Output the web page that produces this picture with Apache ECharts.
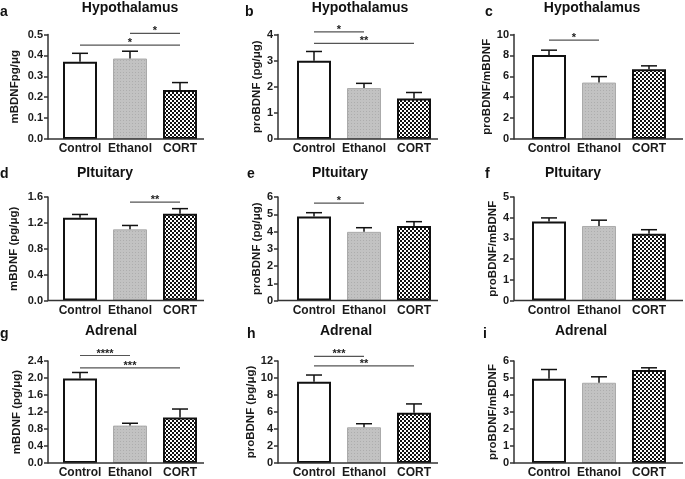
<!DOCTYPE html>
<html><head><meta charset="utf-8">
<script src="https://cdn.jsdelivr.net/npm/echarts@6/dist/echarts.min.js"></script>
<style>html,body{margin:0;padding:0;background:#fff}#c{width:685px;height:479px}</style>
</head><body><div id="c"></div>
<script>
// ---------- DATA ----------
const categories = ['Control', 'Ethanol', 'CORT'];
const panelLetters = ['a', 'b', 'c', 'd', 'e', 'f', 'g', 'h', 'i'];
const panelTitles = ['Hypothalamus', 'Hypothalamus', 'Hypothalamus', 'PItuitary', 'PItuitary', 'PItuitary', 'Adrenal', 'Adrenal', 'Adrenal'];
const yNames = ['mBDNFpg/\u03bcg', 'proBDNF (pg/\u03bcg)', 'proBDNF/mBDNF', 'mBDNF (pg/\u03bcg)', 'proBDNF (pg/\u03bcg)', 'proBDNF/mBDNF', 'mBDNF (pg/\u03bcg)', 'proBDNF (pg/\u03bcg)', 'proBDNF/mBDNF'];

const meansA = [0.37, 0.385, 0.235];  const errA = [0.04, 0.035, 0.035];
const meansB = [3.0, 1.95, 1.55];     const errB = [0.35, 0.18, 0.23];
const meansC = [8.05, 5.4, 6.67];     const errC = [0.45, 0.57, 0.33];
const meansD = [1.28, 1.10, 1.34];    const errD = [0.05, 0.06, 0.08];
const meansE = [4.87, 3.98, 4.32];    const errE = [0.22, 0.24, 0.25];
const meansF = [3.82, 3.60, 3.22];    const errF = [0.17, 0.28, 0.20];
const meansG = [1.99, 0.88, 1.07];    const errG = [0.14, 0.055, 0.20];
const meansH = [9.55, 4.20, 5.90];    const errH = [0.80, 0.42, 1.05];
const meansI = [4.95, 4.72, 5.47];    const errI = [0.55, 0.35, 0.13];

// y-axis tick labels: 0 .. max step
const yMax = [0.5, 4, 10, 1.6, 6, 5, 2.4, 12, 6];
const yStep = [0.1, 1, 2, 0.4, 1, 1, 0.4, 2, 1];
const yDecimals = [1, 0, 0, 1, 0, 0, 1, 0, 0];

// significance brackets: [fromCategory, toCategory, yValue, label]
const sigA = [[1, 2, 0.505, '*'], [0, 2, 0.449, '*']];
const sigB = [[0, 1, 4.1, '*'], [0, 2, 3.66, '**']];
const sigC = [[0, 1, 9.46, '*']];
const sigD = [[1, 2, 1.52, '**']];
const sigE = [[0, 1, 5.65, '*']];
const sigF = [];
const sigG = [[0, 1, 2.53, '****'], [0, 2, 2.24, '***']];
const sigH = [[0, 1, 12.54, '***'], [0, 2, 11.42, '**']];
const sigI = [];

const allMeans = [meansA, meansB, meansC, meansD, meansE, meansF, meansG, meansH, meansI];
const allErr = [errA, errB, errC, errD, errE, errF, errG, errH, errI];
const allSig = [sigA, sigB, sigC, sigD, sigE, sigF, sigG, sigH, sigI];

// ---------- LAYOUT ----------
const colAxisX = [48, 278, 514];
const colBandLeft = [55, 289, 524];
const colBaseRight = [204, 438, 683];
const bandWidth = 150;
const rowTop = [34.5, 197, 361];
const rowBottom = [139, 300.5, 464];
const nameGaps = [27, 13, 17, 28, 12, 14, 25, 18, 13];
const titleCenters = [130, 360, 592, 105, 340, 573, 111, 346, 581];
const titleTops = [1, 166, 324];
const letterLeft = [0, 245, 485, 0, 247, 485, 0, 247, 483];
const letterTops = [5, 167, 327];

const FONT = 'Liberation Sans, Arial, sans-serif';

function makePattern(kind) {
  const c = document.createElement('canvas');
  const ctx = c.getContext('2d');
  if (kind === 'checker') {
    c.width = 4; c.height = 4;
    ctx.fillStyle = '#ffffff'; ctx.fillRect(0, 0, 4, 4);
    ctx.fillStyle = '#111111';
    ctx.fillRect(0, 0, 2, 2); ctx.fillRect(2, 2, 2, 2);
  } else {
    c.width = 3; c.height = 3;
    ctx.fillStyle = '#c2c2c2'; ctx.fillRect(0, 0, 3, 3);
    ctx.fillStyle = '#adadad'; ctx.fillRect(0, 0, 1, 1);
  }
  return { image: c, repeat: 'repeat' };
}
const barStyles = [
  { color: '#ffffff', borderColor: '#111', borderWidth: 2 },
  { color: makePattern('dots'), borderColor: '#aaaaaa', borderWidth: 1 },
  { color: makePattern('checker'), borderColor: '#111', borderWidth: 2 }
];

const grids = [], xAxes = [], yAxes = [], series = [], titles = [];
for (let p = 0; p < 9; p++) {
  const col = p % 3, row = Math.floor(p / 3);
  grids.push({ left: colBandLeft[col], width: bandWidth, top: rowTop[row], height: rowBottom[row] - rowTop[row] });
  xAxes.push({
    gridIndex: p, type: 'category', data: categories, boundaryGap: true,
    axisLine: { show: false }, axisTick: { show: false },
    axisLabel: { interval: 0, margin: 4, color: '#1a1a1a', fontFamily: FONT, fontWeight: 'bold', fontSize: 12 }
  });
  const dec = yDecimals[p];
  yAxes.push({
    gridIndex: p, type: 'value', min: 0, max: yMax[p], interval: yStep[p],
    offset: colBandLeft[col] - colAxisX[col],
    axisLine: { show: true, lineStyle: { color: '#333', width: 1.5 } },
    axisTick: { show: true, length: 4, lineStyle: { color: '#333', width: 1.5 } },
    splitLine: { show: false },
    axisLabel: { margin: 5, color: '#1a1a1a', fontFamily: FONT, fontWeight: 'bold', fontSize: 11,
      formatter: v => Number(v).toFixed(dec) },
    name: yNames[p], nameLocation: 'middle', nameRotate: 90, nameGap: nameGaps[p],
    nameTextStyle: { color: '#1a1a1a', fontFamily: FONT, fontWeight: 'bold', fontSize: 11.5 }
  });
  titles.push({ text: panelTitles[p], left: titleCenters[p], top: titleTops[row], textAlign: 'center', padding: 0,
    textStyle: { color: '#111', fontFamily: FONT, fontWeight: 'bold', fontSize: 14 } });
  titles.push({ text: panelLetters[p], left: letterLeft[p], top: letterTops[row], padding: 0,
    textStyle: { color: '#111', fontFamily: FONT, fontWeight: 'bold', fontSize: 14 } });

  const means = allMeans[p], errs = allErr[p], sig = allSig[p];
  const baseLeftExt = colBandLeft[col] - colAxisX[col];
  const baseRightExt = colBaseRight[col] - (colBandLeft[col] + bandWidth);
  series.push({
    type: 'custom', xAxisIndex: p, yAxisIndex: p, silent: true, z: 5,
    data: [[0, 0]],
    renderItem: (params) => {
      const cs = params.coordSys;
      return { type: 'line', shape: { x1: cs.x - baseLeftExt, y1: cs.y + cs.height, x2: cs.x + cs.width + baseRightExt, y2: cs.y + cs.height },
        style: { stroke: '#333', lineWidth: 1.5 } };
    }
  });
  series.push({
    type: 'bar', xAxisIndex: p, yAxisIndex: p, barWidth: 34, silent: true, z: 2,
    data: means.map((v, k) => ({ value: v, itemStyle: barStyles[k] }))
  });
  series.push({
    type: 'custom', xAxisIndex: p, yAxisIndex: p, silent: true, z: 4, clip: false,
    encode: { x: 0, y: 1 },
    data: means.map((v, k) => [k, v, errs[k]]),
    renderItem: (params, api) => {
      const x = api.value(0), m = api.value(1), e = api.value(2);
      const p0 = api.coord([x, m]), p1 = api.coord([x, m + e]);
      const hw = 8;
      return { type: 'group', children: [
        { type: 'line', shape: { x1: p0[0], y1: p0[1], x2: p1[0], y2: p1[1] }, style: { stroke: '#111', lineWidth: 1.5 } },
        { type: 'line', shape: { x1: p1[0] - hw, y1: p1[1], x2: p1[0] + hw, y2: p1[1] }, style: { stroke: '#111', lineWidth: 1.5 } }
      ] };
    }
  });
  if (sig.length) {
    series.push({
      type: 'custom', xAxisIndex: p, yAxisIndex: p, silent: true, z: 4, clip: false,
      encode: { x: 0, y: 1 },
      data: sig.map(s => [s[0], s[2], s[1]]),
      renderItem: (params, api) => {
        const a = api.coord([api.value(0), api.value(1)]);
        const b = api.coord([api.value(2), api.value(1)]);
        const label = sig[params.dataIndex][3];
        return { type: 'group', children: [
          { type: 'line', shape: { x1: a[0], y1: a[1], x2: b[0], y2: b[1] }, style: { stroke: '#555', lineWidth: 1.2 } },
          { type: 'text', x: (a[0] + b[0]) / 2, y: a[1] - 2,
            style: { text: label, textAlign: 'center', textVerticalAlign: 'middle', fill: '#222', font: 'bold 11px ' + FONT } }
        ] };
      }
    });
  }
}

const chart = echarts.init(document.getElementById('c'), null, { renderer: 'canvas' });
chart.setOption({
  animation: false,
  backgroundColor: '#ffffff',
  title: titles,
  grid: grids,
  xAxis: xAxes,
  yAxis: yAxes,
  series: series
});
</script>
</body></html>
